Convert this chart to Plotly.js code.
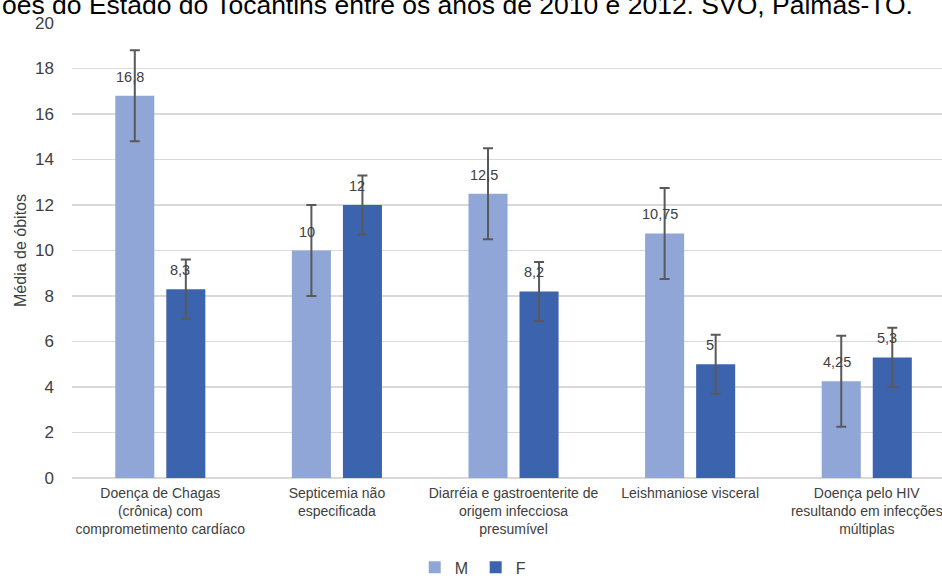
<!DOCTYPE html>
<html>
<head>
<meta charset="utf-8">
<script src="https://cdn.plot.ly/plotly-3.0.1.min.js"></script>
<style>
  html, body { margin: 0; padding: 0; background: #fff; }
  #chart { width: 942px; height: 579px; }
</style>
</head>
<body>
<div id="chart"></div>
<script>
// Causas de óbito: média por sexo, com barras de erro
const categories = [
  "Doença de Chagas<br>(crônica) com<br>comprometimento cardíaco",
  "Septicemia não<br>especificada",
  "Diarréia e gastroenterite de<br>origem infecciosa<br>presumível",
  "Leishmaniose visceral",
  "Doença pelo HIV<br>resultando em infecções<br>múltiplas"
];
const mediaM = [16.8, 10, 12.5, 10.75, 4.25];
const mediaF = [8.3, 12, 8.2, 5, 5.3];
const erroM = [2, 2, 2, 2, 2];
const erroF = [1.3, 1.3, 1.3, 1.3, 1.3];
const yTicks = [0, 2, 4, 6, 8, 10, 12, 14, 16, 18, 20];

const corM = "#8FA6D7";
const corF = "#3C64AE";
const corTexto = "#404040";
const fonte = "Liberation Sans, Arial, sans-serif";

function rotulo(v) { return String(v).replace(".", ","); }

const traces = [
  {
    type: "bar", name: "M", x: categories, y: mediaM,
    marker: { color: corM },
    error_y: { type: "data", array: erroM, visible: true, color: "#595959", thickness: 2, width: 5 },
    hoverinfo: "skip"
  },
  {
    type: "bar", name: "F", x: categories, y: mediaF,
    marker: { color: corF },
    error_y: { type: "data", array: erroF, visible: true, color: "#595959", thickness: 2, width: 5 },
    hoverinfo: "skip"
  }
];

// value labels above each bar
const annotations = [];
categories.forEach((c, i) => {
  annotations.push({ x: c, y: mediaM[i], xref: "x", yref: "y", text: rotulo(mediaM[i]),
    showarrow: false, xshift: -30, yshift: 19, yanchor: "middle",
    font: { family: fonte, size: 14.5, color: corTexto } });
  annotations.push({ x: c, y: mediaF[i], xref: "x", yref: "y", text: rotulo(mediaF[i]),
    showarrow: false, xshift: 20, yshift: 19, yanchor: "middle",
    font: { family: fonte, size: 14.5, color: corTexto } });
});

// caption line running across the top edge
annotations.push({
  xref: "paper", yref: "paper", x: -72 / 870, y: 1 + 1 / 455,
  xanchor: "left", yanchor: "bottom", showarrow: false,
  text: "ões do Estado do Tocantins entre os anos de 2010 e 2012. SVO, Palmas-TO.",
  font: { family: fonte, size: 26.5, color: "#000" }
});

const layout = {
  width: 942, height: 579,
  margin: { l: 72, r: 0, t: 23, b: 101, pad: 0 },
  paper_bgcolor: "#fff", plot_bgcolor: "#fff",
  barmode: "group", bargap: 0.422, bargroupgap: 0.235,
  showlegend: true,
  legend: {
    orientation: "h", xref: "container", yref: "container",
    x: 0.505, y: 0.02, xanchor: "center", yanchor: "middle",
    font: { family: fonte, size: 16, color: corTexto },
    itemwidth: 30, entrywidth: 16, tracegroupgap: 0
  },
  xaxis: {
    type: "category", range: [-0.5, 4.426],
    showgrid: false, zeroline: false, showline: false, ticks: "",
    tickfont: { family: fonte, size: 14, color: corTexto },
    ticklabelstandoff: 5, automargin: false
  },
  yaxis: {
    range: [0, 20], tickvals: yTicks, ticktext: yTicks.map(String),
    showgrid: true, gridcolor: "#d9d9d9", gridwidth: 1.5,
    zeroline: true, zerolinecolor: "#d9d9d9", zerolinewidth: 1.5,
    showline: false, ticks: "",
    tickfont: { family: fonte, size: 17, color: corTexto },
    ticklabelstandoff: 17, automargin: false,
    title: { text: "Média de óbitos", font: { family: fonte, size: 16, color: corTexto }, standoff: 4 }
  },
  annotations: annotations
};

Plotly.newPlot("chart", traces, layout, { displayModeBar: false, staticPlot: true });
</script>
</body>
</html>
